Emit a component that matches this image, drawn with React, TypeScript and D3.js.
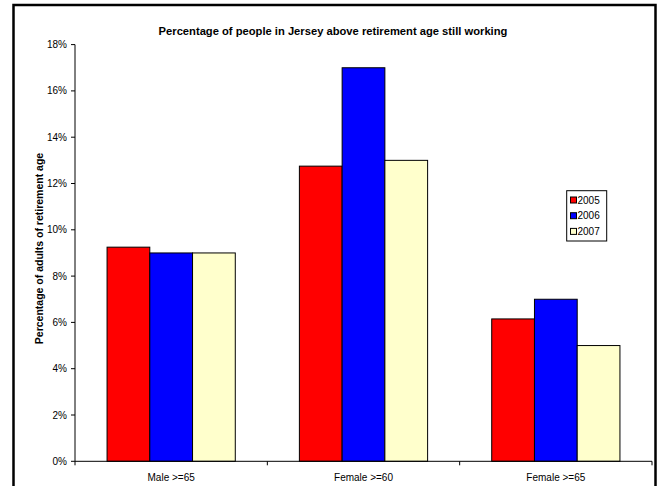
import React from "react";
import * as d3 from "d3";

const categories = ["Male >=65", "Female >=60", "Female >=65"];
const seriesNames = ["2005", "2006", "2007"];
const values2005 = [0.0925, 0.1275, 0.0615];
const values2006 = [0.09, 0.17, 0.07];
const values2007 = [0.09, 0.13, 0.05];
const seriesColors = ["#FF0000", "#0000FF", "#FFFFCC"];
const yTicks = [0, 0.02, 0.04, 0.06, 0.08, 0.1, 0.12, 0.14, 0.16, 0.18];
const title = "Percentage of people in Jersey above retirement age still working";
const yTitle = "Percentage of adults of retirement age";

const W = 657;
const H = 486;
const FONT = "Arial, 'Liberation Sans', sans-serif";

export default function App() {
  const allValues = [values2005, values2006, values2007];
  const left = 75;
  const right = 652;
  const bottom = 461.3;
  const top = 44.6;

  const x0 = d3.scaleBand<string>().domain(categories).range([left, right]).padding(0);
  const x1 = d3
    .scaleBand<string>()
    .domain(seriesNames)
    .range([0, x0.bandwidth()])
    .paddingInner(0)
    .paddingOuter(0.75);
  const y = d3.scaleLinear().domain([0, 0.18]).range([bottom, top]);
  const fmt = d3.format(".0%");

  const boundaries = [...categories.map((c) => x0(c) as number), right];

  return (
    <svg
      width={W}
      height={H}
      style={{ position: "absolute", left: 0, top: 0, background: "#fff" }}
      fontFamily={FONT}
    >
      <rect x={0} y={0} width={W} height={H} fill="#fff" />
      <rect x={13.5} y={5} width={642} height={520} fill="none" stroke="#000" strokeWidth={2.5} />

      <text x={333} y={35} textAnchor="middle" fontSize={11.2} fontWeight="bold" fill="#000">
        {title}
      </text>

      {/* bars */}
      {categories.map((c, ci) => (
        <g key={c} transform={`translate(${x0(c)},0)`}>
          {seriesNames.map((s, si) => {
            const v = allValues[si][ci];
            return (
              <rect
                key={s}
                x={x1(s)}
                y={y(v)}
                width={x1.bandwidth()}
                height={bottom - y(v)}
                fill={seriesColors[si]}
                stroke="#000"
                strokeWidth={1}
              />
            );
          })}
        </g>
      ))}

      {/* y axis */}
      <line x1={left} x2={left} y1={top} y2={bottom} stroke="#000" strokeWidth={1} />
      {yTicks.map((t) => (
        <g key={t}>
          <line x1={left - 4} x2={left} y1={y(t)} y2={y(t)} stroke="#000" strokeWidth={1} />
          <text x={left - 8} y={y(t) + 3.5} textAnchor="end" fontSize={10} fill="#000">
            {fmt(t)}
          </text>
        </g>
      ))}

      {/* x axis */}
      <line x1={left} x2={right} y1={bottom} y2={bottom} stroke="#000" strokeWidth={1} />
      {boundaries.map((b, i) => (
        <line key={i} x1={b} x2={b} y1={bottom} y2={bottom + 4} stroke="#000" strokeWidth={1} />
      ))}
      {categories.map((c) => (
        <text
          key={c}
          x={(x0(c) as number) + x0.bandwidth() / 2}
          y={481}
          textAnchor="middle"
          fontSize={10}
          fill="#000"
        >
          {c}
        </text>
      ))}

      <text
        transform={`translate(43,248.5) rotate(-90)`}
        textAnchor="middle"
        fontSize={10.5}
        fontWeight="bold"
        fill="#000"
      >
        {yTitle}
      </text>

      {/* legend */}
      <rect x={566.7} y={190.7} width={40} height={50.3} fill="#fff" stroke="#000" strokeWidth={1} />
      {seriesNames.map((s, i) => (
        <g key={s}>
          <rect
            x={570.5}
            y={197 + i * 15.7}
            width={6}
            height={6}
            fill={seriesColors[i]}
            stroke="#000"
            strokeWidth={1}
          />
          <text x={577.5} y={203.5 + i * 15.7} fontSize={10} fill="#000">
            {s}
          </text>
        </g>
      ))}
    </svg>
  );
}
